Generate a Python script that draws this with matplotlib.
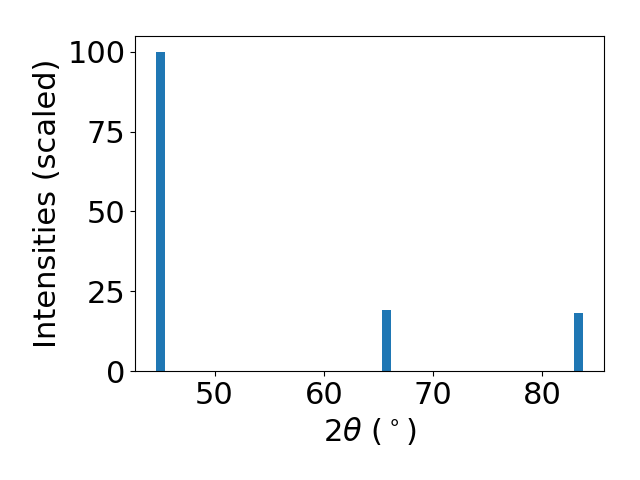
import matplotlib
matplotlib.use('Agg')
from matplotlib import pyplot as plt

two_theta = [45.08, 65.72, 83.30]
intensities = [100.0, 19.1, 18.1]

plt.rcParams['font.size'] = 22

fig, ax = plt.subplots(figsize=(6.4, 4.8), dpi=100)
ax.bar(two_theta, intensities, width=0.8, color='C0')
ax.set_xlabel(r"$2\theta$ ($^\circ$)")
ax.set_ylabel("Intensities (scaled)")
ax.set_yticks([0, 25, 50, 75, 100])
plt.subplots_adjust(left=0.211, right=0.944, bottom=0.227, top=0.925)
fig.savefig("out.png")
